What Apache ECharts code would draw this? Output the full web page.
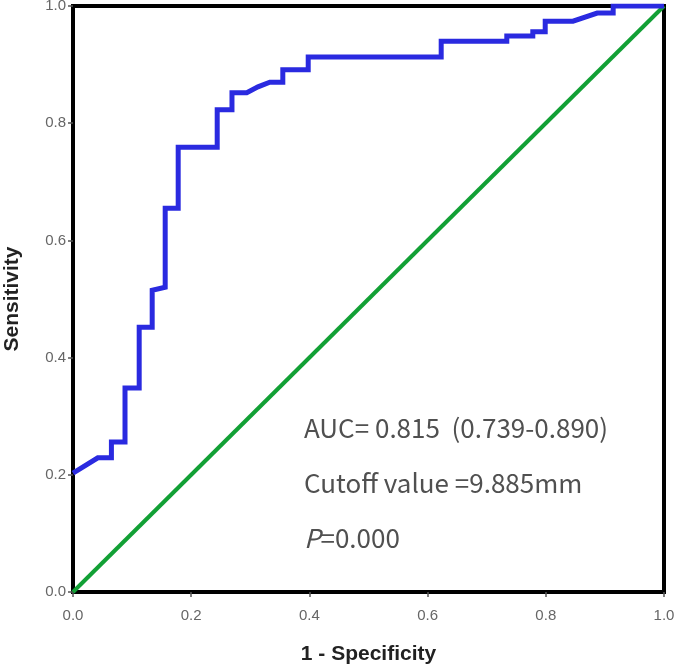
<!DOCTYPE html>
<html>
<head>
<meta charset="utf-8">
<script src="https://cdn.jsdelivr.net/npm/echarts@6/dist/echarts.min.js"></script>
<style>html,body{margin:0;padding:0;background:#fff;}#c{width:679px;height:665px;}</style>
</head>
<body>
<div id="c"></div>
<script>
// ROC curve vertices (1 - specificity, sensitivity)
var rocX = [0, 0.042, 0.065, 0.065, 0.088, 0.088, 0.112, 0.112, 0.134, 0.134, 0.156, 0.156, 0.178, 0.178, 0.244, 0.244, 0.269, 0.269, 0.294, 0.313, 0.333, 0.355, 0.355, 0.398, 0.398, 0.623, 0.623, 0.734, 0.734, 0.778, 0.778, 0.799, 0.799, 0.846, 0.887, 0.914, 0.914, 1.0];
var rocY = [0.203, 0.229, 0.229, 0.256, 0.256, 0.348, 0.348, 0.452, 0.452, 0.515, 0.520, 0.655, 0.655, 0.759, 0.759, 0.823, 0.823, 0.852, 0.852, 0.862, 0.870, 0.870, 0.891, 0.891, 0.913, 0.913, 0.940, 0.940, 0.949, 0.949, 0.956, 0.956, 0.974, 0.974, 0.988, 0.988, 1.0, 1.0];
var refX = [0, 1];
var refY = [0, 1];
var tickValues = [0, 0.2, 0.4, 0.6, 0.8, 1.0];
var annotations = ['AUC= 0.815\u00a0\u00a0(0.739-0.890)', 'Cutoff value =9.885mm', '0.000'];

var rocData = rocX.map(function (x, i) { return [x, rocY[i]]; });
var refData = refX.map(function (x, i) { return [x, refY[i]]; });

var chart = echarts.init(document.getElementById('c'));
var font = 'Arial, "Liberation Sans", sans-serif';
var tfont = '"Noto Sans CJK SC", "Noto Sans", sans-serif';
function axisCommon(name, gap) {
  return {
    type: 'value', min: 0, max: 1, interval: 0.2,
    name: name, nameLocation: 'middle', nameGap: gap,
    nameTextStyle: { fontFamily: font, fontWeight: 'bold', fontSize: 21, color: '#222' },
    axisLine: { show: true, onZero: false, lineStyle: { color: '#000', width: 4 } },
    axisTick: { show: true, length: 5, lineStyle: { color: '#555', width: 1.5 } },
    axisLabel: { color: '#666', fontFamily: font, fontSize: 15, margin: 7,
      formatter: function (v) { return v.toFixed(1); } },
    splitLine: { show: false }
  };
}
var xa = axisCommon('1 - Specificity', 52);
xa.axisLabel.margin = 16;
var ya = axisCommon('Sensitivity', 50);
function txt(y, style) {
  style.verticalAlign = 'middle';
  style.x = 0; style.y = 0;
  return { type: 'text', x: 304, y: y, style: style };
}
chart.setOption({
  animation: false,
  backgroundColor: '#fff',
  grid: { left: 73, right: 15, top: 6, bottom: 73, show: true, borderColor: '#000', borderWidth: 4,
          containLabel: false, outerBoundsMode: 'none' },
  xAxis: xa,
  yAxis: ya,
  series: [
    { type: 'line', data: refData, symbol: 'none', lineStyle: { color: '#12a035', width: 4 }, z: 2 },
    { type: 'line', data: rocData, symbol: 'none', lineStyle: { color: '#2a2ae0', width: 5, join: 'miter' }, z: 3 }
  ],
  graphic: [
    txt(428, { text: annotations[0], fontFamily: tfont, fontSize: 26, fill: '#505050' }),
    txt(483, { text: annotations[1], fontFamily: tfont, fontSize: 26, fill: '#505050' }),
    txt(538, {
        text: '{i|P}{n|=' + annotations[2] + '}',
        rich: { i: { fontFamily: tfont, fontStyle: 'italic', fontSize: 26, fill: '#505050' },
                n: { fontFamily: tfont, fontSize: 26, fill: '#505050' } } })
  ]
});
</script>
</body>
</html>
